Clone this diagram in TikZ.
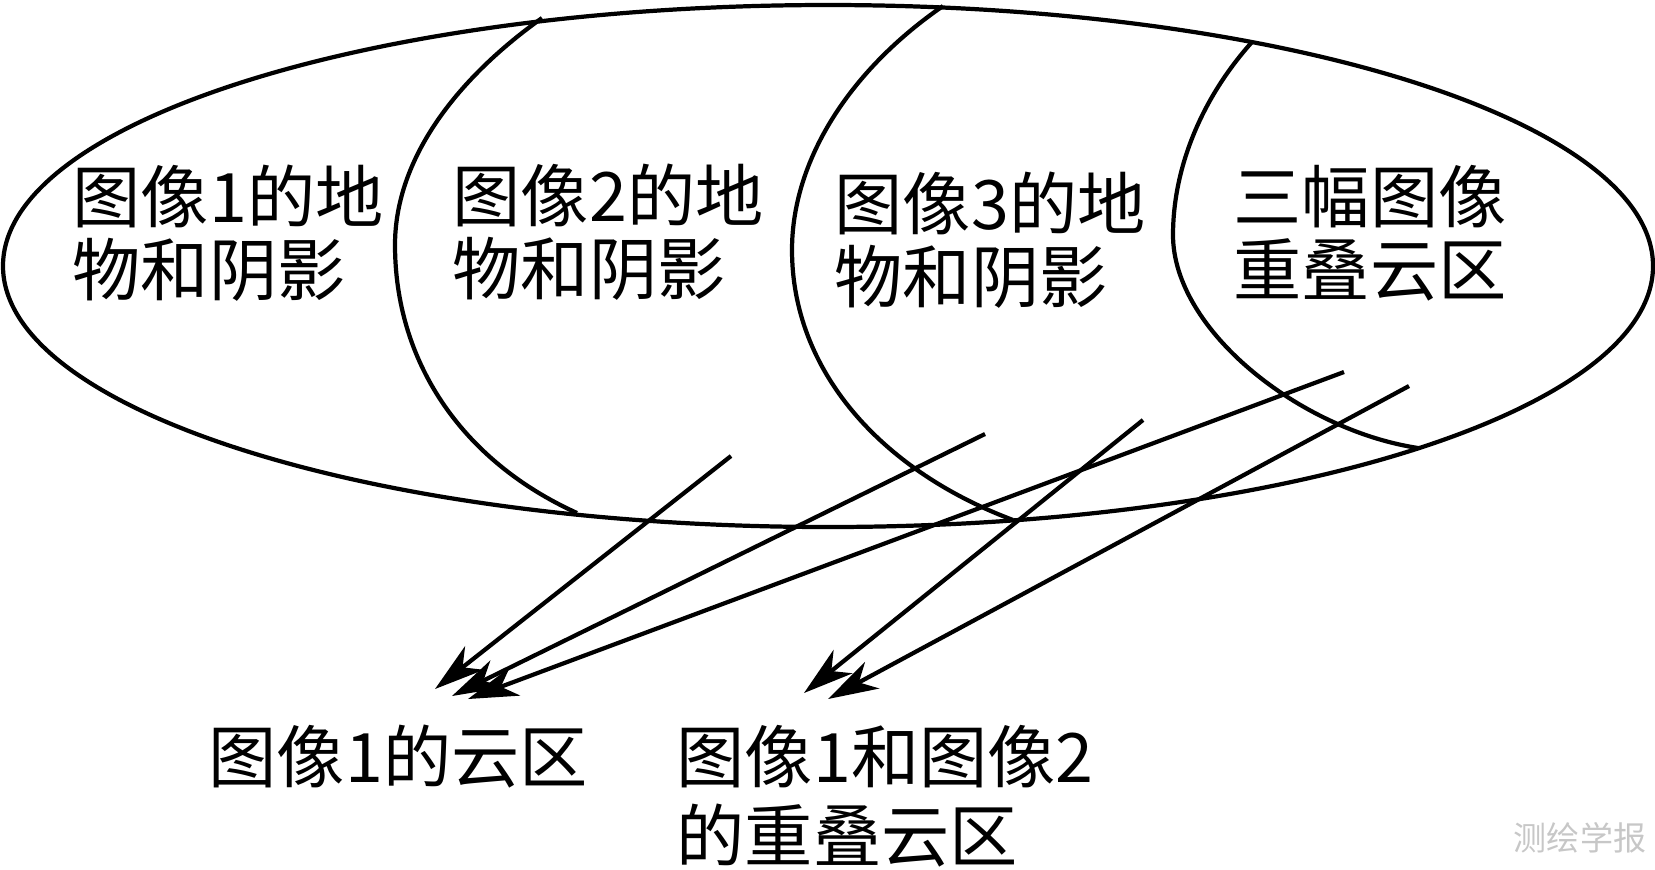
\documentclass[tikz,border=0pt]{standalone}
\usepackage{fontspec}
\setmainfont{Noto Sans CJK SC}
\usetikzlibrary{arrows.meta}
\tikzset{
  outline/.style = {line width=1.2pt},
  regtext/.style = {anchor=west, align=left, inner sep=0pt,
                    font=\fontsize{19.4}{20.6}\selectfont},
  ptr/.style     = {-{Stealth[length=5mm, width=3mm, inset=1.5mm]}, line width=1.2pt},
  stamp/.style   = {font=\fontsize{9.4}{10}\selectfont, text=black!22, inner sep=0pt}
}
\begin{document}
\begin{tikzpicture}[x=0.01cm, y=-0.01cm]
\useasboundingbox (0,0) rectangle (1655,869);
% the three images and their borders
\draw[outline] (828,266) ellipse [x radius=825, y radius=261];
\draw[outline] (542,18) .. controls (455,80) and (395,160) .. (395,245)
  .. controls (395,360) and (460,460) .. (577,513);
\draw[outline] (943,6) .. controls (850,70) and (792,160) .. (792,250)
  .. controls (792,370) and (880,470) .. (1013,520);
\draw[outline] (1252,42) .. controls (1200,100) and (1173,170) .. (1173,235)
  .. controls (1173,330) and (1300,430) .. (1418,448);
% region texts
\node[regtext] (img1)  at (72,233)   {图像1的地\\物和阴影};
\node[regtext] (img2)  at (452,232)  {图像2的地\\物和阴影};
\node[regtext] (img3)  at (834,240)  {图像3的地\\物和阴影};
\node[regtext] (three) at (1233,233) {三幅图像\\重叠云区};
\node[regtext] (cloud1)  at (208,757) {图像1的云区};
\node[regtext, font=\fontsize{19.4}{22.5}\selectfont] (cloud12) at (676,796)
  {图像1和图像2\\的重叠云区};
\node[stamp] (journal) at (1580,838) {测绘学报};
% arrows down to the cloud labels
\foreach \n/\sx/\sy/\tx/\ty in {1/731/456/435/689, 2/985/434/452/696,
  3/1344/372/468/699, 4/1143/420/804/693, 5/1409/386/828/699} {
  \coordinate (from\n) at (\sx,\sy);
  \coordinate (to\n) at (\tx,\ty);
  \draw[ptr] (from\n) -- (to\n);
}
\end{tikzpicture}
\end{document}
